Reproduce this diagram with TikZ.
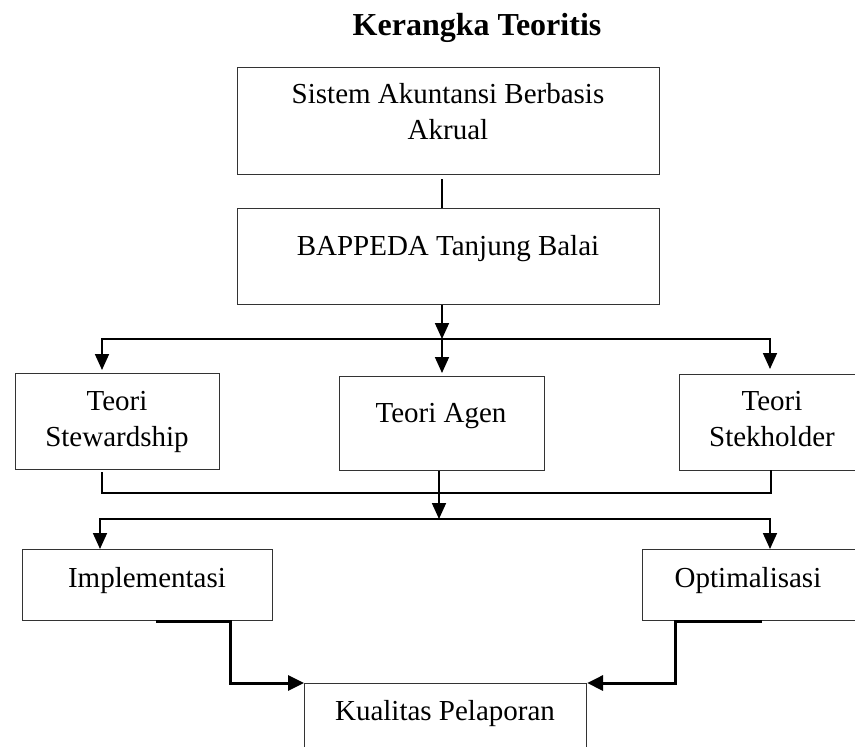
\documentclass[tikz,border=0pt]{standalone}
\usepackage{fontspec}
\setmainfont{Liberation Serif}
\usetikzlibrary{arrows.meta,calc}
\begin{document}
\begin{tikzpicture}[x=1pt,y=-1pt,
  box/.style={draw=black!80, line width=1.1pt, rectangle, inner sep=0pt, anchor=north west},
  txt/.style={font=\fontsize{29}{36}\selectfont, align=center, anchor=base, inner sep=0pt},
  conn/.style={line width=1.7pt, line cap=rect},
  arr/.style={line width=1.7pt, -{Triangle[length=16pt,width=14pt]}},
  heavyarr/.style={line width=3pt, -{Triangle[length=16pt,width=15pt]}},
]
\useasboundingbox (0,0) rectangle (855,747);
\clip (0,0) rectangle (855,747);

\node[font=\bfseries\fontsize{32}{38}\selectfont, anchor=base, inner sep=0pt] (title) at (477,35) {Kerangka Teoritis};

% boxes
\node[box, minimum width=422pt, minimum height=107pt] (sis) at (237,67) {};
\node[box, minimum width=422pt, minimum height=96pt] (bap) at (237,208) {};
\node[box, minimum width=204pt, minimum height=96pt] (stew) at (15,373) {};
\node[box, minimum width=205pt, minimum height=94pt] (agen) at (339,376) {};
\node[box, minimum width=184pt, minimum height=96pt] (stek) at (679,374) {};
\node[box, minimum width=250pt, minimum height=71pt] (impl) at (22,549) {};
\node[box, minimum width=213pt, minimum height=71pt] (opt) at (642,549) {};
\node[box, minimum width=282pt, minimum height=90pt] (kual) at (304,683) {};

% texts (base anchor = baseline of the last line)
\node[txt] (sisT) at (448,139) {Sistem Akuntansi Berbasis\\Akrual};
\node[txt] (bapT) at (448,255) {BAPPEDA Tanjung Balai};
\node[txt] (stewT) at (117,446) {Teori\\Stewardship};
\node[txt] (agenT) at (441,422) {Teori Agen};
\node[txt] (stekT) at (772,446) {Teori\\Stekholder};
\node[txt] (implT) at (147,587) {Implementasi};
\node[txt] (optT) at (748,587) {Optimalisasi};
\node[txt] (kualT) at (445,720) {Kualitas Pelaporan};

% junction coordinates
\coordinate (hL) at (102,339);
\coordinate (hM) at (442,339);
\coordinate (hR) at (770,339);
\coordinate (gL) at (102,493);
\coordinate (gM) at (439,493);
\coordinate (gR) at (771,493);
\coordinate (kL) at (100,519);
\coordinate (kM) at (439,519);
\coordinate (kR) at (770,519);
\coordinate (iA) at (156,621);
\coordinate (iB) at (230,621);
\coordinate (oA) at (762,621);
\coordinate (oB) at (675,621);

% connectors
\draw[line width=1.2pt] ($(sis.south -| hM)+(0,4)$) -- (bap.north -| hM);
\draw[arr] (bap.south -| hM) -- (hM);
\draw[conn] (hL) -- (hR);
\draw[arr, shorten >=3pt] (hL) -- (stew.north -| hL);
\draw[arr, shorten >=3pt] (hM) -- (agen.north -| hM);
\draw[arr, shorten >=5pt] (hR) -- (stek.north -| hR);

\draw[conn] ($(stew.south -| gL)+(0,3)$) -- (gL) -- (gR) -- (stek.south -| gR);
\draw[arr] (agen.south -| gM) -- (kM);
\draw[conn] (kL) -- (kR);
\draw[arr] (kL) -- (impl.north -| kL);
\draw[arr] (kR) -- (opt.north -| kR);

\draw[heavyarr] (iA) -- (iB) |- (kual.north west);
\draw[heavyarr] (oA) -- (oB) |- (kual.north east);
\end{tikzpicture}
\end{document}
